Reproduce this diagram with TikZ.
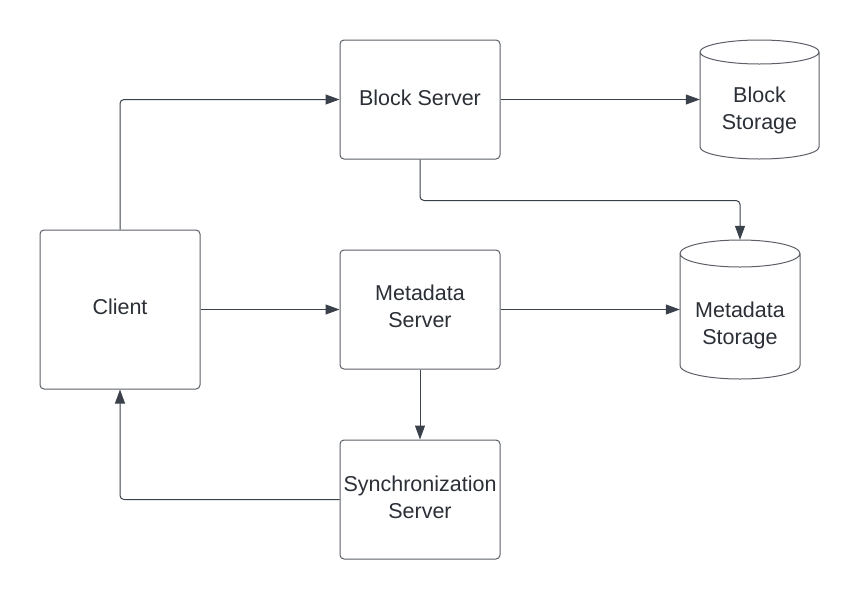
\documentclass[tikz,border=0pt]{standalone}
\usepackage{fontspec}
\setmainfont{Liberation Sans}
\usetikzlibrary{arrows.meta,calc}
\definecolor{linec}{HTML}{3A414A}
\definecolor{boxc}{HTML}{5C6066}
\definecolor{textc}{HTML}{2B2F36}
\begin{document}
\begin{tikzpicture}[x=1pt,y=1pt,
  font=\fontsize{21.5}{27}\selectfont, text=textc,
  srv/.style={draw=boxc, line width=1pt, rounded corners=4pt,
    minimum width=160pt, minimum height=119pt, inner sep=0pt},
  store/.style={minimum width=#1, inner sep=0pt},
  cyl/.style={draw=boxc, line width=1pt},
  conn/.style={draw=linec, line width=1pt, rounded corners=4pt,
    -{Triangle[length=14pt,width=10pt]}},
  lbl/.style={align=center, inner sep=0pt}]
\fill[white] (0,0) rectangle (860,-600);
\useasboundingbox (0,0) rectangle (860,-600);

\node[srv, minimum height=159pt] (client) at (120,-309.5) {};
\node[srv] (blocksrv) at (420,-99.5) {};
\node[srv] (metasrv) at (420,-309.5) {};
\node[srv] (syncsrv) at (420,-499.5) {};
\node[lbl] (clienttxt) at ($(client.center)+(0,3)$) {Client};
\node[lbl] (blocksrvtxt) at ($(blocksrv.center)+(0,1.5)$) {Block Server};
\node[lbl] (metasrvtxt) at ($(metasrv.center)+(0,3)$) {Metadata\\Server};
\node[lbl] (syncsrvtxt) at ($(syncsrv.center)+(0,2)$) {Synchronization\\Server};

% Block Storage cylinder
\node[store=119pt, minimum height=119pt] (blockst) at (759.5,-99.5) {};
\draw[cyl] (700,-52) -- (700,-147)
  arc[start angle=180,end angle=360,x radius=59.5,y radius=12]
  -- (819,-52)
  arc[start angle=0,end angle=180,x radius=59.5,y radius=12]
  arc[start angle=180,end angle=360,x radius=59.5,y radius=12];
\node[lbl] (blocksttxt) at ($(blockst.center)+(0,-11)$) {Block\\Storage};

% Metadata Storage cylinder
\node[store=120pt, minimum height=139pt] (metast) at (740,-309.5) {};
\draw[cyl] (680,-253.5) -- (680,-365.5)
  arc[start angle=180,end angle=360,x radius=60,y radius=13.5]
  -- (800,-253.5)
  arc[start angle=0,end angle=180,x radius=60,y radius=13.5]
  arc[start angle=180,end angle=360,x radius=60,y radius=13.5];
\node[lbl] (metasttxt) at ($(metast.center)+(0,-15.5)$) {Metadata\\Storage};

% connectors
\draw[conn] (client.north) |- (blocksrv.west);
\draw[conn] (blocksrv.east) -- (blockst.west);
\draw[conn] (blocksrv.south) -- ++(0,-41) -| (metast.north);
\draw[conn] (client.east) -- (metasrv.west);
\draw[conn] (metasrv.east) -- (metast.west);
\draw[conn] (metasrv.south) -- (syncsrv.north);
\draw[conn] (syncsrv.west) -| (client.south);
\end{tikzpicture}
\end{document}
